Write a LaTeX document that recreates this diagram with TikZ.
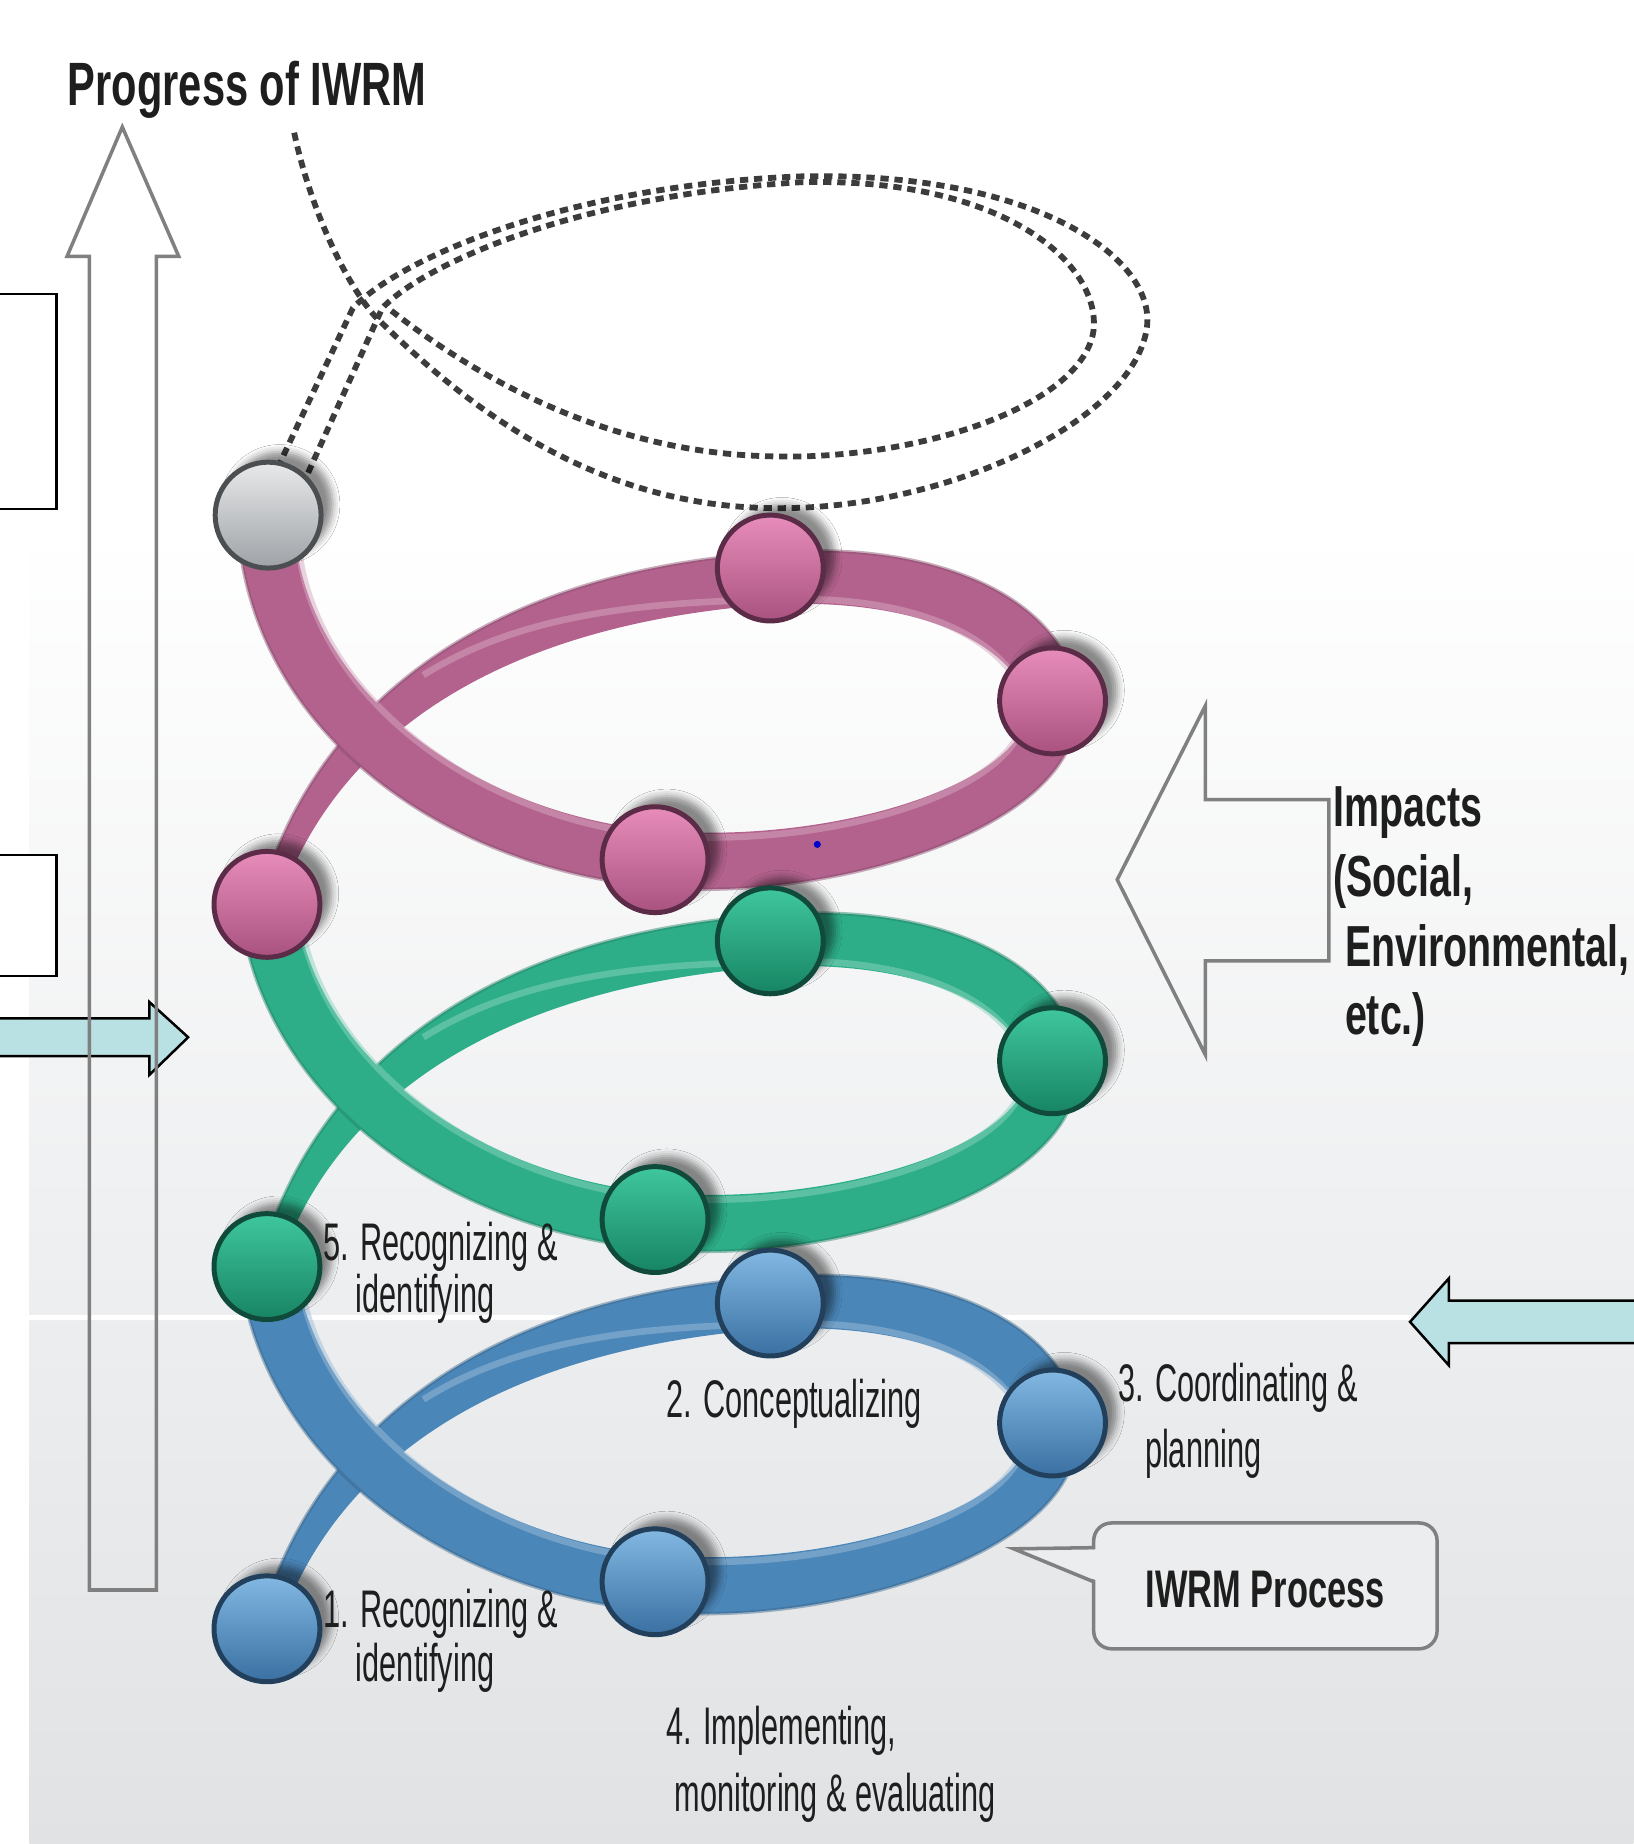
\documentclass[tikz,border=0pt]{standalone}
\usepackage{fontspec}
\setmainfont{Liberation Sans}
\newfontfamily\labfont[FakeStretch=0.58]{Liberation Sans}
\newfontfamily\titfont[FakeStretch=0.68]{Liberation Sans}
\newfontfamily\impfont[FakeStretch=0.68]{Liberation Sans}
\newfontfamily\procfont[FakeStretch=0.65]{Liberation Sans}
\usetikzlibrary{shadows.blur}
\definecolor{pinkrib}{HTML}{B3628D}
\definecolor{pinktop}{HTML}{E88DBB}
\definecolor{pinkbot}{HTML}{A9527F}
\definecolor{pinkdark}{HTML}{5C2B47}
\definecolor{greenrib}{HTML}{2DAE88}
\definecolor{greentop}{HTML}{3FC79D}
\definecolor{greenbot}{HTML}{178462}
\definecolor{greendark}{HTML}{0F4A3A}
\definecolor{bluerib}{HTML}{4B86B8}
\definecolor{bluetop}{HTML}{82B8E2}
\definecolor{bluebot}{HTML}{3A70A2}
\definecolor{bluedark}{HTML}{22405C}
\definecolor{greytop}{HTML}{E8E9EA}
\definecolor{greybot}{HTML}{9EA2A6}
\definecolor{greydark}{HTML}{4C4F52}
\definecolor{cyanfill}{HTML}{B9E0E3}
\definecolor{arrgray}{HTML}{808080}
\definecolor{dashgray}{HTML}{3C3C3C}
\definecolor{bgmid}{HTML}{F1F2F3}
\definecolor{bgbot}{HTML}{E0E2E4}
\definecolor{calloutfill}{HTML}{ECEDEE}
\definecolor{txt}{HTML}{1E1E1E}
\tikzset{
  ball/.style={circle, inner sep=0pt, minimum size=0.9cm, draw=#1dark, line width=1.2pt,
    top color=#1top, bottom color=#1bot,
    blur shadow={shadow xshift=0.1cm, shadow yshift=0.09cm, shadow opacity=45, shadow blur radius=0.06cm}},
  lab/.style={inner sep=0pt, anchor=base west, text=txt, font=\labfont\fontsize{12.8}{14}\selectfont},
  imp/.style={inner sep=0pt, anchor=base west, text=txt, font=\impfont\bfseries\fontsize{14}{16}\selectfont},
  dashrib/.style={draw=dashgray, line width=1.4pt, dash pattern=on 2pt off 1.4pt},
  blockout/.style={draw=arrgray, line width=0.85pt, line join=miter},
  cyanarrow/.style={fill=cyanfill, draw=black, line width=0.6pt, line join=miter},
  emptybox/.style={draw=black, line width=0.6pt, fill=white},
  hilite/.style={draw=#1!55!white, line width=1.6pt, opacity=0.5},
  ribedge/.style={draw=#1!75!black, line width=0.8pt, opacity=0.45},
}
\newcommand\ribbonlevel[2]{%
  \begin{scope}[shift={(0,#2)}]
    % back part (thin to wide)
    \fill[#1] (220,1385) .. controls (255,1250) and (375,1105) .. (655,1086)
      .. controls (800,1074) and (910,1128) .. (917,1212) -- (876,1215)
      .. controls (860,1162) and (780,1124) .. (655,1130)
      .. controls (390,1150) and (276,1268) .. (237,1385) -- cycle;
    \draw[ribedge=#1] (220,1385) .. controls (255,1250) and (375,1105) .. (655,1086)
      .. controls (800,1074) and (910,1128) .. (917,1212);
    \draw[hilite=#1] (360,1190) .. controls (440,1140) and (540,1128) .. (655,1126)
      .. controls (780,1120) and (855,1160) .. (872,1210);
    % front part (wide)
    \fill[#1] (915,1208) .. controls (932,1320) and (700,1385) .. (557,1370)
      .. controls (390,1355) and (222,1250) .. (203,1075) -- (251,1075)
      .. controls (268,1212) and (410,1308) .. (557,1322)
      .. controls (700,1335) and (878,1285) .. (876,1212) -- cycle;
    \draw[ribedge=#1] (915,1208) .. controls (932,1320) and (700,1385) .. (557,1370)
      .. controls (390,1355) and (222,1250) .. (203,1075);
    \draw[hilite=#1] (255,1090) .. controls (275,1215) and (412,1312) .. (557,1326)
      .. controls (700,1339) and (870,1290) .. (872,1220);
  \end{scope}}
\begin{document}
\begin{tikzpicture}[x=0.01cm, y=-0.01cm]
\useasboundingbox (0,0) rectangle (1389,1568);
% background
\fill[white] (0,0) rectangle (1389,1568);
\shade[top color=white, middle color=bgmid, bottom color=bgbot] (25,450) rectangle (1389,1568);
\draw[white, line width=1.2pt] (0,1120) -- (1200,1120);

% left empty boxes and arrow
\draw[emptybox] (-5,250) rectangle (48,433);
\draw[emptybox] (-5,727) rectangle (48,830);
\draw[cyanarrow] (-5,866) -- (127,866) -- (127,852) -- (160,882) -- (127,914) -- (127,898) -- (-5,898) -- cycle;

% progress arrow
\draw[blockout] (76,1352) -- (76,218) -- (57,218) -- (104,108) -- (152,218) -- (133,218) -- (133,1352) -- cycle;
\node[inner sep=0pt, anchor=base west, text=txt, font=\titfont\bfseries\fontsize{14.8}{16}\selectfont] (title) at (57,90) {Progress of IWRM};

% impacts arrow
\draw[blockout] (950,748) -- (1025,600) -- (1025,680) -- (1130,680) -- (1130,817) -- (1025,817) -- (1025,897) -- cycle;
\node[imp] (imp1) at (1133,703) {Impacts};
\node[imp] (imp2) at (1133,762) {(Social,};
\node[imp] (imp3) at (1143,822) {Environmental,};
\node[imp] (imp4) at (1143,880) {etc.)};

% right cyan arrow
\draw[cyanarrow] (1395,1106) -- (1232,1106) -- (1232,1087) -- (1199,1124) -- (1232,1161) -- (1232,1142) -- (1395,1142) -- cycle;

% dashed future loop
\draw[dashrib] (236,398) -- (300,262) .. controls (340,220) and (480,158) .. (680,150)
  .. controls (880,145) and (985,220) .. (975,280)
  .. controls (962,360) and (800,435) .. (655,432)
  .. controls (500,430) and (390,340) .. (318,268)
  .. controls (290,235) and (262,170) .. (250,112);
\draw[dashrib] (262,402) -- (325,262) .. controls (360,225) and (490,166) .. (680,155)
  .. controls (850,150) and (935,222) .. (930,280)
  .. controls (922,345) and (780,392) .. (655,388)
  .. controls (520,385) and (410,325) .. (330,262);

% ribbons
\ribbonlevel{bluerib}{0}
\ribbonlevel{greenrib}{-308}
\ribbonlevel{pinkrib}{-616}
\fill[blue!80!black] (695,718) circle (3);

% balls
\node[ball=grey] (g0) at (228,438) {};
\node[ball=pink] (p1) at (227,769) {};
\node[ball=pink] (p2) at (655,483) {};
\node[ball=pink] (p3) at (895,596) {};
\node[ball=pink] (p4) at (557,731) {};
\node[ball=green] (e1) at (227,1077) {};
\node[ball=green] (e2) at (655,800) {};
\node[ball=green] (e3) at (895,902) {};
\node[ball=green] (e4) at (557,1037) {};
\node[ball=blue] (b1) at (227,1385) {};
\node[ball=blue] (b2) at (655,1108) {};
\node[ball=blue] (b3) at (895,1210) {};
\node[ball=blue] (b4) at (557,1345) {};

% labels
\node[lab] (l5a) at (274,1072) {5. Recognizing \&};
\node[lab] (l5b) at (302,1116) {identifying};
\node[lab] (l2) at (566,1205) {2. Conceptualizing};
\node[lab] (l3a) at (950,1192) {3. Coordinating \&};
\node[lab] (l3b) at (973,1248) {planning};
\node[lab] (l1a) at (274,1384) {1. Recognizing \&};
\node[lab] (l1b) at (302,1430) {identifying};
\node[lab] (l4a) at (566,1483) {4. Implementing,};
\node[lab] (l4b) at (573,1540) {monitoring \& evaluating};

% callout
\draw[draw=arrgray, line width=0.85pt, fill=calloutfill, rounded corners=4.3pt] (930,1295) rectangle (1222,1402);
\fill[calloutfill] (862,1317) -- (933,1317.5) -- (933,1344) -- cycle;
\draw[draw=arrgray, line width=0.85pt, line join=miter] (930,1316) -- (862,1317) -- (930,1345);
\node[inner sep=0pt, text=txt, font=\procfont\bfseries\fontsize{12.8}{14}\selectfont] (proc) at (1076,1352) {IWRM Process};
\end{tikzpicture}
\end{document}
